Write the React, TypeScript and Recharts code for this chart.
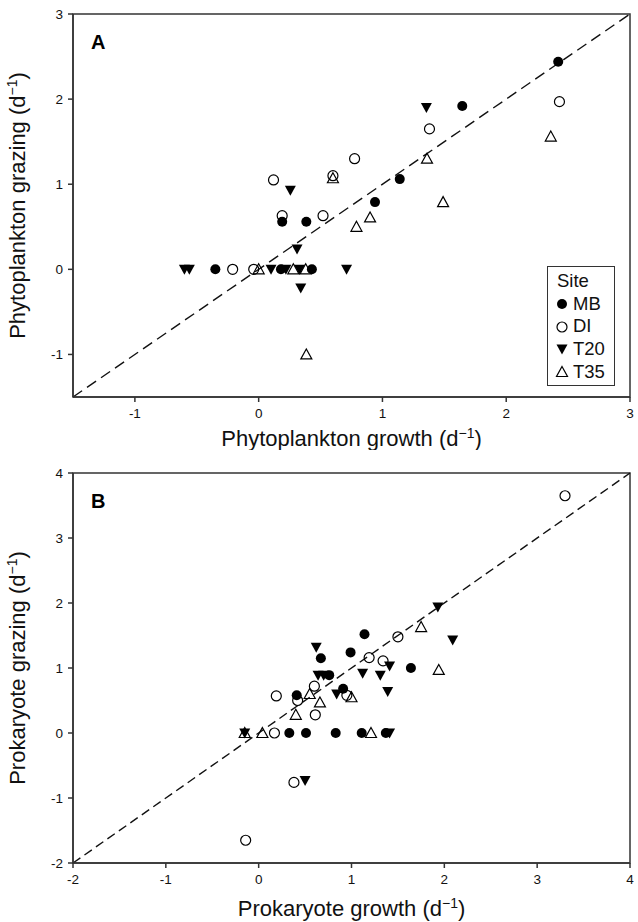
import { ScatterChart, Scatter, XAxis, YAxis, ReferenceLine, ReferenceArea, Label } from 'recharts';

// Panel A: phytoplankton growth vs grazing (d-1)
const phytoMB = [
  { x: 2.42, y: 2.44 }, { x: 1.645, y: 1.92 }, { x: 1.14, y: 1.06 }, { x: 0.94, y: 0.79 },
  { x: 0.385, y: 0.56 }, { x: 0.19, y: 0.56 }, { x: -0.35, y: 0 }, { x: 0.18, y: 0 }, { x: 0.43, y: 0 },
];
const phytoDI = [
  { x: 2.43, y: 1.97 }, { x: 1.38, y: 1.65 }, { x: 0.775, y: 1.3 }, { x: 0.12, y: 1.05 },
  { x: 0.6, y: 1.1 }, { x: 0.19, y: 0.63 }, { x: 0.52, y: 0.63 }, { x: -0.21, y: 0 }, { x: -0.04, y: 0 },
];
const phytoT20 = [
  { x: 1.355, y: 1.9 }, { x: 0.256, y: 0.93 }, { x: 0.31, y: 0.24 }, { x: -0.6, y: 0 }, { x: -0.56, y: 0 },
  { x: 0.1, y: 0 }, { x: 0.22, y: 0 }, { x: 0.33, y: 0 }, { x: 0.71, y: 0 }, { x: 0.34, y: -0.22 },
];
const phytoT35 = [
  { x: 2.36, y: 1.56 }, { x: 1.36, y: 1.3 }, { x: 0.6, y: 1.07 }, { x: 1.49, y: 0.79 }, { x: 0.9, y: 0.61 },
  { x: 0.79, y: 0.5 }, { x: 0.0, y: 0 }, { x: 0.28, y: 0 }, { x: 0.38, y: 0 }, { x: 0.385, y: -1.0 },
];

// Panel B: prokaryote growth vs grazing (d-1)
const prokMB = [
  { x: 1.14, y: 1.52 }, { x: 0.67, y: 1.15 }, { x: 0.99, y: 1.24 }, { x: 1.64, y: 1.0 },
  { x: 0.76, y: 0.89 }, { x: 0.91, y: 0.68 }, { x: 0.41, y: 0.58 }, { x: 0.33, y: 0 },
  { x: 0.51, y: 0 }, { x: 0.83, y: 0 }, { x: 1.11, y: 0 }, { x: 1.37, y: 0 },
];
const prokDI = [
  { x: 3.3, y: 3.65 }, { x: 1.5, y: 1.48 }, { x: 1.19, y: 1.16 }, { x: 1.34, y: 1.11 },
  { x: 0.6, y: 0.72 }, { x: 0.95, y: 0.58 }, { x: 0.19, y: 0.57 }, { x: 0.42, y: 0.5 },
  { x: 0.61, y: 0.28 }, { x: 0.17, y: 0 }, { x: 0.38, y: -0.76 }, { x: -0.14, y: -1.65 },
];
const prokT20 = [
  { x: 1.93, y: 1.94 }, { x: 2.09, y: 1.43 }, { x: 0.62, y: 1.32 }, { x: 1.41, y: 1.03 },
  { x: 0.64, y: 0.89 }, { x: 0.7, y: 0.89 }, { x: 1.12, y: 0.92 }, { x: 1.31, y: 0.89 },
  { x: 1.39, y: 0.64 }, { x: 0.84, y: 0.6 }, { x: -0.15, y: 0 }, { x: 1.41, y: 0 }, { x: 0.5, y: -0.73 },
];
const prokT35 = [
  { x: 1.75, y: 1.63 }, { x: 1.94, y: 0.97 }, { x: 0.55, y: 0.6 }, { x: 0.66, y: 0.47 },
  { x: 1.0, y: 0.55 }, { x: 0.4, y: 0.28 }, { x: -0.15, y: 0 }, { x: 0.04, y: 0 }, { x: 1.21, y: 0 },
];

const ticksA = [-1, 0, 1, 2, 3];
const ticksB = [-2, -1, 0, 1, 2, 3, 4];
const sites = ['MB', 'DI', 'T20', 'T35'];

const FONT = '"Liberation Sans", Arial, Helvetica, sans-serif';
const AXIS = '#333';

const FilledCircle = (p: any) => <circle cx={p.cx} cy={p.cy} r={5} fill="#000" />;
const OpenCircle = (p: any) => <circle cx={p.cx} cy={p.cy} r={5} fill="none" stroke="#000" strokeWidth={1.2} />;
const DownTri = (p: any) => (
  <polygon
    points={`${p.cx - 5.5},${p.cy - 4.5} ${p.cx + 5.5},${p.cy - 4.5} ${p.cx},${p.cy + 5.5}`}
    fill="#000"
  />
);
const UpTri = (p: any) => (
  <polygon
    points={`${p.cx},${p.cy - 5.5} ${p.cx + 5.5},${p.cy + 4.5} ${p.cx - 5.5},${p.cy + 4.5}`}
    fill="none"
    stroke="#000"
    strokeWidth={1.2}
  />
);
const SHAPES = [FilledCircle, OpenCircle, DownTri, UpTri];

function XTitle({ viewBox, text, dy }: any) {
  const { x, y, width } = viewBox;
  return (
    <text x={x + width / 2} y={y + dy} textAnchor="middle" fontFamily={FONT} fontSize={22} fill="#111">
      {text} (d<tspan fontSize={14} dy={-8}>−1</tspan><tspan dy={8}>)</tspan>
    </text>
  );
}

function YTitle({ viewBox, text }: any) {
  const { y, height } = viewBox;
  const cx = 25;
  const cy = y + height / 2;
  return (
    <text
      x={cx}
      y={cy}
      transform={`rotate(-90, ${cx}, ${cy})`}
      textAnchor="middle"
      fontFamily={FONT}
      fontSize={22}
      fill="#111"
    >
      {text} (d<tspan fontSize={14} dy={-8}>−1</tspan><tspan dy={8}>)</tspan>
    </text>
  );
}

function PanelTag({ viewBox, tag }: any) {
  return (
    <text x={viewBox.x + 18} y={viewBox.y + 35} fontFamily={FONT} fontSize={20} fontWeight={700} fill="#000">
      {tag}
    </text>
  );
}

function Panel({ series, lo, hi, ticks, tag, xText, yText, height, top, xAxisH, dash, titleDy }: any) {
  return (
    <ScatterChart width={638} height={height} margin={{ top, right: 8, left: 0, bottom: 0 }}>
      <XAxis
        type="number"
        dataKey="x"
        domain={[lo, hi]}
        ticks={ticks}
        allowDataOverflow
        height={xAxisH}
        tickSize={5}
        tickMargin={6}
        stroke={AXIS}
        strokeWidth={1.5}
        tick={{ fontFamily: FONT, fontSize: 13.5, fill: '#111' }}
      >
        <Label content={(props: any) => <XTitle {...props} text={xText} dy={titleDy} />} />
      </XAxis>
      <YAxis
        type="number"
        dataKey="y"
        domain={[lo, hi]}
        ticks={ticks}
        allowDataOverflow
        width={73}
        tickSize={5}
        tickMargin={5}
        stroke={AXIS}
        strokeWidth={1.5}
        tick={{ fontFamily: FONT, fontSize: 13.5, fill: '#111' }}
      >
        <Label content={(props: any) => <YTitle {...props} text={yText} />} />
      </YAxis>
      <ReferenceArea x1={lo} x2={hi} y1={lo} y2={hi} fill="none" stroke={AXIS} strokeWidth={1.5}>
        <Label content={(props: any) => <PanelTag {...props} tag={tag} />} />
      </ReferenceArea>
      <ReferenceLine
        segment={[{ x: lo, y: lo }, { x: hi, y: hi }]}
        stroke="#111"
        strokeWidth={1.4}
        strokeDasharray={dash}
      />
      {series.map((data: any, i: number) => (
        <Scatter
          key={sites[i]}
          name={sites[i]}
          data={data}
          shape={SHAPES[i]}
          isAnimationActive={false}
        />
      ))}
    </ScatterChart>
  );
}

function LegendIcon({ i }: { i: number }) {
  const S = SHAPES[i];
  return (
    <svg width={14} height={14} style={{ display: 'block' }}>
      <S cx={7} cy={7} />
    </svg>
  );
}

export default function App() {
  return (
    <div style={{ position: 'absolute', left: 0, top: 0, width: 638, height: 922, background: '#fff' }}>
      <div style={{ position: 'absolute', left: 0, top: 0 }}>
        <Panel
          series={[phytoMB, phytoDI, phytoT20, phytoT35]}
          lo={-1.5}
          hi={3}
          ticks={ticksA}
          tag="A"
          xText="Phytoplankton growth"
          yText="Phytoplankton grazing"
          height={450}
          top={14}
          xAxisH={53}
          dash="11 6"
          titleDy={49}
        />
      </div>
      <div style={{ position: 'absolute', left: 0, top: 450 }}>
        <Panel
          series={[prokMB, prokDI, prokT20, prokT35]}
          lo={-2}
          hi={4}
          ticks={ticksB}
          tag="B"
          xText="Prokaryote growth"
          yText="Prokaryote grazing"
          height={472}
          top={23}
          xAxisH={59}
          dash="9 5"
          titleDy={53}
        />
      </div>
      <div
        style={{
          position: 'absolute',
          left: 547,
          top: 266,
          width: 66,
          height: 115,
          border: '1.5px solid #333',
          background: '#fff',
          fontFamily: FONT,
          fontSize: 18.5,
          color: '#111',
          lineHeight: '22.7px',
          paddingTop: 3,
        }}
      >
        <div style={{ paddingLeft: 9 }}>Site</div>
        {sites.map((s, i) => (
          <div key={s} style={{ display: 'flex', alignItems: 'center', paddingLeft: 7, gap: 4 }}>
            <LegendIcon i={i} />
            <span>{s}</span>
          </div>
        ))}
      </div>
    </div>
  );
}
